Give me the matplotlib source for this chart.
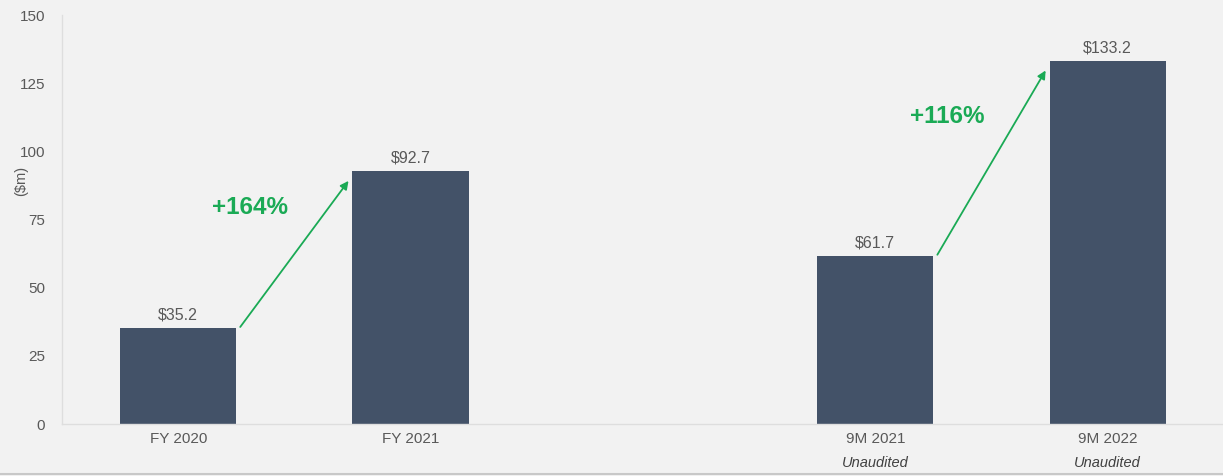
import matplotlib.pyplot as plt
from matplotlib.lines import Line2D

periods = ["FY 2020", "FY 2021", "9M 2021", "9M 2022"]
subtitles = ["", "", "Unaudited", "Unaudited"]
revenue = [35.2, 92.7, 61.7, 133.2]
slots = [0, 1, 3, 4]
growth = [("+164%", 0, 1), ("+116%", 2, 3)]

bg = "#f2f2f2"
bar_color = "#435268"
green = "#1aaa55"
grey = "#595959"

plt.rcParams["font.family"] = ["Liberation Sans", "DejaVu Sans"]

fig = plt.figure(figsize=(12.23, 4.76), dpi=100, facecolor=bg)
ax = fig.add_axes([0.0507, 0.1092, 0.950, 0.859], facecolor=bg)

ax.bar(slots, revenue, width=0.5, color=bar_color, zorder=2)

for x, v in zip(slots, revenue):
    ax.annotate(f"${v:.1f}", (x, v), xytext=(0, 4), textcoords="offset points",
                ha="center", va="bottom", fontsize=11.5, color=grey)

# growth arrows between bar pairs
for label, i, j in growth:
    x0, x1 = slots[i] + 0.267, slots[j] - 0.267
    y0, y1 = revenue[i] + 0.4, revenue[j] - 3.5
    ax.annotate("", xy=(x1, y1), xytext=(x0, y0),
                arrowprops=dict(arrowstyle="-|>", color=green, lw=1.3,
                                mutation_scale=12, shrinkA=0, shrinkB=0))
    ymid = (revenue[i] + revenue[j]) / 2
    ax.text(slots[i] + 0.31, ymid + 15.4, label, color=green,
            fontsize=17.5, fontweight="bold", ha="center", va="center")

ax.set_xlim(-0.5, 4.5)
ax.set_ylim(0, 150)
ax.set_yticks(range(0, 151, 25))
ax.set_xticks(slots)
ax.set_xticklabels(periods)
ax.tick_params(length=0, labelsize=11, colors=grey, pad=6)
ax.tick_params(axis="y", pad=12)

for x, s in zip(slots, subtitles):
    if s:
        ax.text(x, -14.2, s, ha="center", va="center", fontsize=10.5,
                style="italic", color="#404040")

for side in ("top", "right"):
    ax.spines[side].set_visible(False)
for side in ("left", "bottom"):
    ax.spines[side].set_color("#dedede")
    ax.spines[side].set_linewidth(1)

ax.text(-0.675, 89, "($m)", rotation=90, ha="center", va="center",
        fontsize=10.5, color=grey)

fig.add_artist(Line2D([0, 1], [0.004, 0.004], transform=fig.transFigure,
                      color="#c8c8c8", lw=1.5))

fig.savefig("out.png", dpi=100, facecolor=bg)
